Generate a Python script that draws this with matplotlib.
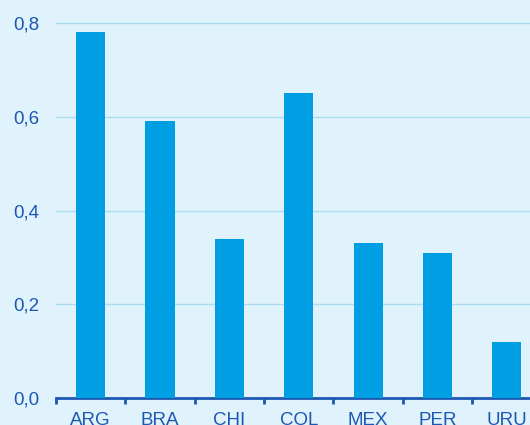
import matplotlib.pyplot as plt

countries = ["ARG", "BRA", "CHI", "COL", "MEX", "PER", "URU"]
values = [0.78, 0.59, 0.34, 0.65, 0.33, 0.31, 0.12]
yticks = [0.0, 0.2, 0.4, 0.6, 0.8]
ytick_labels = ["0,0", "0,2", "0,4", "0,6", "0,8"]

BG = "#e0f2fb"
BAR = "#009fe3"
DARK = "#1d58b3"
GRID = "#aadcf4"

plt.rcParams["font.family"] = ["Liberation Sans", "DejaVu Sans"]

fig = plt.figure(figsize=(5.3, 4.25), dpi=100, facecolor=BG)
ax = fig.add_axes([56 / 530, 27 / 425, 485.6 / 530, 398 / 425], facecolor=BG)

x = range(len(countries))
ax.bar(x, values, width=0.42, color=BAR, zorder=3)

ax.set_xlim(-0.5, len(countries) - 0.5)
ax.set_ylim(0, 398 / 468.75)

ax.set_yticks(yticks)
ax.set_yticklabels(ytick_labels)
ax.yaxis.grid(True, color=GRID, linewidth=1)
ax.set_axisbelow(True)
ax.tick_params(axis="y", length=0, pad=12, labelsize=13.5, labelcolor=DARK)

# labels centred on bars, tick marks on category boundaries
ax.set_xticks([i - 0.5 for i in range(len(countries) + 1)])
ax.set_xticklabels([])
ax.set_xticks(list(x), minor=True)
ax.set_xticklabels(countries, minor=True)
ax.tick_params(axis="x", which="major", direction="out", length=4, width=2, color=DARK)
ax.tick_params(axis="x", which="minor", length=0, pad=10, labelsize=13.5, labelcolor=DARK)

for side in ["top", "right", "left"]:
    ax.spines[side].set_visible(False)
ax.spines["bottom"].set_color(DARK)
ax.spines["bottom"].set_linewidth(2)

fig.savefig("out.png", dpi=100, facecolor=BG)
